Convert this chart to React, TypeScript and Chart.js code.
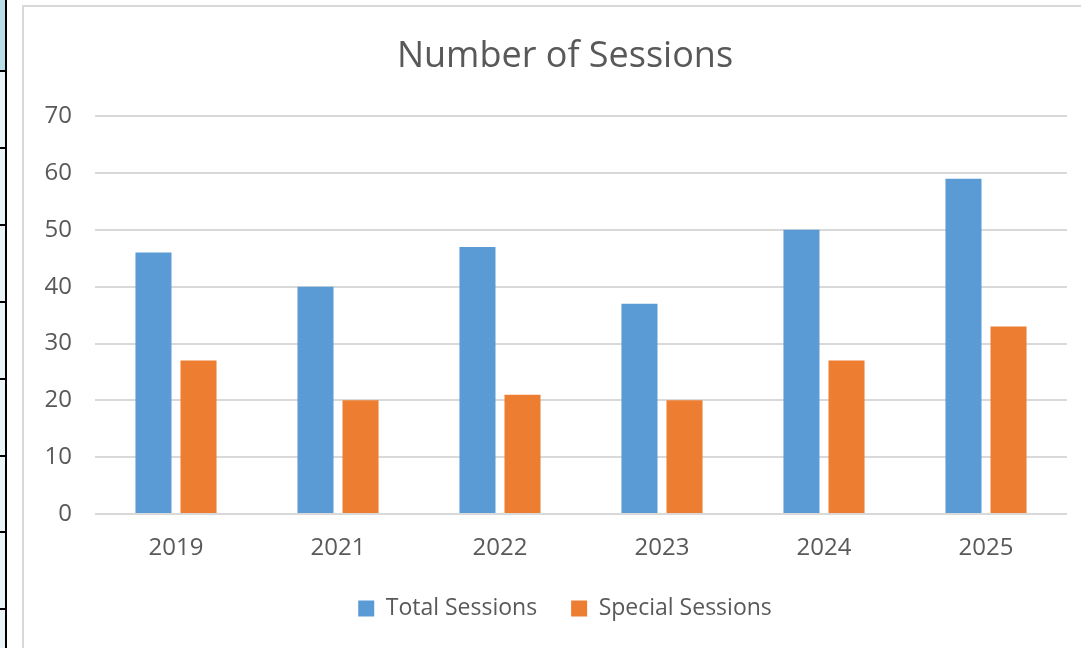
import React, { useEffect, useRef } from "react";
import { Chart, registerables } from "chart.js";

Chart.register(...registerables);

const categories = ["2019", "2021", "2022", "2023", "2024", "2025"];
const totalSessions = [46, 40, 47, 37, 50, 59];
const specialSessions = [27, 20, 21, 20, 27, 33];
const seriesNames = ["Total Sessions", "Special Sessions"];
const chartTitle = "Number of Sessions";
const yMin = 0;
const yMax = 70;
const yStep = 10;

const TEXT = "#595959";
const GRID = "#D9D9D9";
const FONT = "'Open Sans', 'DejaVu Sans', sans-serif";

const sheetLines = [70, 147, 224, 301, 378, 455, 531, 608];

export default function App() {
  const ref = useRef<HTMLCanvasElement | null>(null);

  useEffect(() => {
    if (!ref.current) return;
    const chart = new Chart(ref.current, {
      type: "bar",
      data: {
        labels: categories,
        datasets: [
          {
            label: seriesNames[0],
            data: totalSessions,
            backgroundColor: "#5B9BD5",
            barPercentage: 0.8,
            categoryPercentage: 0.556,
          },
          {
            label: seriesNames[1],
            data: specialSessions,
            backgroundColor: "#ED7D31",
            barPercentage: 0.8,
            categoryPercentage: 0.556,
          },
        ],
      },
      options: {
        responsive: false,
        animation: false,
        devicePixelRatio: 1,
        layout: { padding: { left: 0, right: 0, top: 0, bottom: 18 } },
        plugins: {
          title: {
            display: true,
            text: chartTitle,
            color: TEXT,
            font: { family: FONT, size: 36, weight: "normal" },
            padding: { top: 35, bottom: 38 },
          },
          legend: {
            display: true,
            position: "bottom",
            labels: {
              color: TEXT,
              font: { family: FONT, size: 23 },
              boxWidth: 16,
              boxHeight: 16,
              padding: 34,
            },
          },
          tooltip: { enabled: false },
        },
        scales: {
          x: {
            grid: { display: false, drawTicks: false },
            border: { display: false },
            ticks: {
              color: TEXT,
              font: { family: FONT, size: 24 },
              padding: 20,
              maxRotation: 0,
            },
            afterFit: (s: any) => {
              s.height = 49;
            },
          },
          y: {
            position: "left",
            min: yMin,
            max: yMax,
            grid: { color: GRID, lineWidth: 2, drawTicks: false },
            border: { display: false },
            ticks: {
              stepSize: yStep,
              color: TEXT,
              font: { family: FONT, size: 24 },
              padding: 23,
            },
            afterFit: (s: any) => {
              s.width = 72;
            },
          },
          yRight: {
            type: "linear",
            position: "right",
            display: true,
            grid: { display: false, drawTicks: false },
            border: { display: false },
            ticks: { display: false },
            afterFit: (s: any) => {
              s.width = 40;
            },
          },
        },
      } as any,
    });
    return () => chart.destroy();
  }, []);

  return (
    <div
      style={{
        position: "fixed",
        left: 0,
        top: 0,
        width: 1081,
        height: 648,
        overflow: "hidden",
        background: "#ffffff",
      }}
    >
      <div
        style={{
          position: "absolute",
          left: 0,
          top: 0,
          width: 6,
          height: 70,
          background: "#B7DDE5",
        }}
      />
      <div
        style={{
          position: "absolute",
          left: 0,
          top: 70,
          width: 6,
          height: 578,
          background: "#EAF4F7",
        }}
      />
      <div
        style={{
          position: "absolute",
          left: 5,
          top: 0,
          width: 2,
          height: 648,
          background: "#000000",
        }}
      />
      {sheetLines.map((y) => (
        <div
          key={y}
          style={{
            position: "absolute",
            left: 0,
            top: y,
            width: 6,
            height: 2,
            background: "#000000",
          }}
        />
      ))}
      <div
        style={{
          position: "absolute",
          left: 22,
          top: 5,
          width: 1200,
          height: 800,
          border: "2px solid #D9D9D9",
          boxSizing: "border-box",
        }}
      />
      <canvas
        ref={ref}
        width={1084}
        height={648}
        style={{
          position: "absolute",
          left: 23,
          top: 0,
          width: 1084,
          height: 648,
        }}
      />
    </div>
  );
}
